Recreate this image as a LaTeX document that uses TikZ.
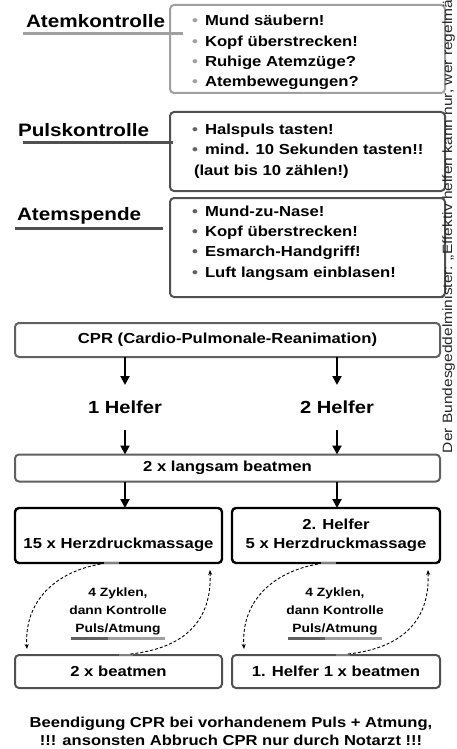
\documentclass[tikz,border=0pt]{standalone}
\usepackage{fontspec}
\setmainfont{Liberation Sans}[FakeStretch=1.15]
\usetikzlibrary{arrows.meta,calc}
\definecolor{lgray}{HTML}{A0A0A0}
\definecolor{dgray}{HTML}{505050}
\definecolor{mgray}{HTML}{606060}
\newcommand\bul[1]{\makebox[13pt][l]{\textcolor{#1}{•}}}
\newcommand\mainf{\bfseries\fontsize{14.5}{19}\selectfont}
\begin{document}
\begin{tikzpicture}[x=1pt,y=-1pt,
 every node/.style={inner sep=0pt, outer sep=0pt},
 box/.style={draw, rounded corners=4pt, line width=2pt},
 ibox/.style={box, minimum width=275pt},
 fbox/.style={box, minimum width=425pt, draw=mgray, font=\mainf},
 hbox/.style={box, minimum height=55pt, draw=black, line width=2.4pt, align=center, font=\mainf},
 bbox/.style={box, minimum height=33pt, draw=dgray, font=\mainf},
 ttl/.style={anchor=base west, font=\bfseries\fontsize{18}{20}\selectfont},
 blist/.style={anchor=west, align=left, font=\bfseries\fontsize{14.5}{20.3}\selectfont},
 helfer/.style={font=\bfseries\fontsize{17.5}{20}\selectfont, minimum height=45pt},
 cyctext/.style={align=center, font=\bfseries\fontsize{12}{18}\selectfont},
 arr/.style={line width=2pt, -{Triangle[length=9pt,width=9pt]}},
 cyc/.style={line width=0.9pt, dash pattern=on 3pt off 2pt, -{Stealth[length=5pt,width=4pt]}},
 tickmark/.style={line width=2.5pt, draw=gray},
 uline/.style={line width=3pt},
]
\useasboundingbox (0,0) rectangle (456,749);
\clip (0,0) rectangle (456,749);

% --- info boxes
\node[ibox, draw=lgray, minimum height=88pt] (k1) at (307.5,49) {};
\node[blist] (k1t) at (192,52.5) {\bul{lgray}Mund säubern!\\ \bul{lgray}Kopf überstrecken!\\ \bul{lgray}Ruhige Atemzüge?\\ \bul{lgray}Atembewegungen?};
\node[ibox, draw=dgray, minimum height=79pt] (k2) at (307.5,151.5) {};
\node[blist] (k2t) at (192,151) {\bul{mgray}Halspuls tasten!\\ \bul{mgray}mind. 10 Sekunden tasten!!\\ \hspace{2pt}(laut bis 10 zählen!)};
\node[ibox, draw=dgray, minimum height=99pt] (k3) at (307.5,247.5) {};
\node[blist] (k3t) at (192,243) {\bul{mgray}Mund-zu-Nase!\\ \bul{mgray}Kopf überstrecken!\\ \bul{mgray}Esmarch-Handgriff!\\ \bul{mgray}Luft langsam einblasen!};

% --- titles
\node[ttl] (t1) at (26,27.5) {Atemkontrolle};
\draw[uline, draw=lgray] ($(t1.base west)+(-3,6)$) -- ++(160,0);
\node[ttl] (t2) at (18,136) {Pulskontrolle};
\draw[uline, draw=dgray] ($(t2.base west)+(5,6)$) -- ++(150,0);
\node[ttl] (t3) at (17,220) {Atemspende};
\draw[uline, draw=dgray] ($(t3.base west)+(-2,8)$) -- ++(148,0);

% --- CPR flow
\node[fbox, minimum height=34pt] (cpr) at (227.5,340) {CPR (Cardio-Pulmonale-Reanimation)};
\node[helfer] (h1) at (125,407.5) {1 Helfer};
\node[helfer] (h2) at (337,407.5) {2 Helfer};
\node[fbox, minimum height=27pt] (beat) at (227.5,468) {2 x langsam beatmen};
\node[hbox, minimum width=207pt] (m15) at (118.5,535.5) {\vphantom{2. Helfer}\\15 x Herzdruckmassage};
\node[hbox, minimum width=208pt] (m5) at (336,535.5) {2. Helfer\\5 x Herzdruckmassage};
\node[bbox, minimum width=207pt] (b2) at (118.5,671.5) {2 x beatmen};
\node[bbox, minimum width=208pt] (b1) at (336,671.5) {1. Helfer 1 x beatmen};

\draw[arr] (h1 |- cpr.south) -- (h1.north);
\draw[arr] (h2 |- cpr.south) -- (h2.north);
\draw[arr] (h1.south) -- (h1 |- beat.north);
\draw[arr] (h2.south) -- (h2 |- beat.north);
\draw[arr] (h1 |- beat.south) -- (h1 |- m15.north);
\draw[arr] (h2 |- beat.south) -- (h2 |- m5.north);

% --- cycles
\node[cyctext] (c1) at (118,611) {4 Zyklen,\\dann Kontrolle\\Puls/Atmung};
\node[cyctext] (c2) at (335,611) {4 Zyklen,\\dann Kontrolle\\Puls/Atmung};
\fill[mgray] ($(c1)+(-47,26)$) rectangle ($(c1)+(-10,29)$);
\fill[lgray] ($(c1)+(-10,26)$) rectangle ($(c1)+(47,29)$);
\fill[mgray] ($(c2)+(-47,26)$) rectangle ($(c2)+(-10,29)$);
\fill[lgray] ($(c2)+(-10,26)$) rectangle ($(c2)+(47,29)$);

\draw[tickmark] ($(m15.south)+(-15,0)$) -- (m15.south);
\draw[tickmark] (b2.north) -- ++(14,0);
\draw[tickmark] ($(m5.south)+(-15,0)$) -- (m5.south);
\draw[tickmark] (b1.north) -- ++(14,0);

\draw[cyc] ($(m15.south)+(-18,1)$) .. controls +(-45,8) and +(-3,-48) .. ($(b2.north west)+(12,-6)$);
\draw[cyc] ($(b2.north)+(12,-1)$) .. controls +(55,-6) and +(2,50) .. ($(m15.south east)+(-12,7)$);
\draw[cyc] ($(m5.south)+(-18,1)$) .. controls +(-45,8) and +(-3,-48) .. ($(b1.north west)+(12,-6)$);
\draw[cyc] ($(b1.north)+(12,-1)$) .. controls +(55,-6) and +(2,50) .. ($(m5.south east)+(-12,7)$);

% --- bottom note
\node[align=center, font=\bfseries\fontsize{14.4}{18}\selectfont] (fin) at (231,731) {Beendigung CPR bei vorhandenem Puls + Atmung,\\!!! ansonsten Abbruch CPR nur durch Notarzt !!!};

% --- vertical side text (cut at the top edge, as in the reference)
\node[anchor=base west, rotate=90, font=\fontsize{13.5}{15}\selectfont, text=black!85] (vt) at (452,453) {Der Bundesgeddelminister: „Effektiv helfen kann nur, wer regelmäßig};
\end{tikzpicture}
\end{document}
